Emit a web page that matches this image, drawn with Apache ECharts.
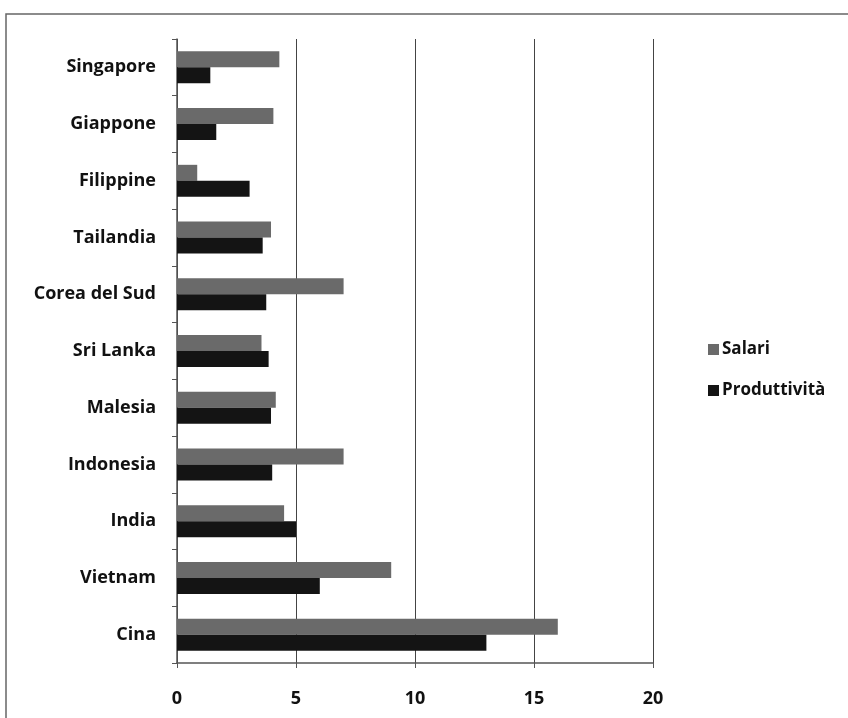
<!DOCTYPE html>
<html>
<head>
<meta charset="utf-8">
<script src="https://cdn.jsdelivr.net/npm/echarts@6/dist/echarts.min.js"></script>
<style>
  html, body { margin: 0; padding: 0; background: #fff; }
  #chart { width: 848px; height: 718px; }
</style>
</head>
<body>
<div id="chart"></div>
<script>
// paesi, dal basso verso l'alto
var paesi = ['Cina', 'Vietnam', 'India', 'Indonesia', 'Malesia', 'Sri Lanka',
  'Corea del Sud', 'Tailandia', 'Filippine', 'Giappone', 'Singapore'];
var salari = [16.0, 9.0, 4.5, 7.0, 4.15, 3.55, 7.0, 3.95, 0.85, 4.05, 4.3];
var produttivita = [13.0, 6.0, 5.0, 4.0, 3.95, 3.85, 3.75, 3.6, 3.05, 1.65, 1.4];
var xTicks = [0, 5, 10, 15, 20];

var chart = echarts.init(document.getElementById('chart'));

var fontName = 'Open Sans';

var opt = {
  animation: false,
  backgroundColor: '#fff',
  graphic: [{
    type: 'rect',
    shape: { x: 6, y: 14, width: 900, height: 800 },
    style: { fill: 'none', stroke: '#666', lineWidth: 1.5 },
    silent: true
  }],
  grid: {
    left: 177,
    right: 195,
    top: 39,
    bottom: 55
  },
  legend: {
    orient: 'vertical',
    left: 703,
    top: 336,
    itemWidth: 11,
    itemHeight: 11,
    itemGap: 24,
    icon: 'rect',
    data: ['Salari', 'Produttività'],
    textStyle: { fontFamily: fontName, fontSize: 17, fontWeight: 'bold', color: '#111', padding: [0, 0, 0, -2] }
  },
  xAxis: {
    type: 'value',
    min: xTicks[0],
    max: xTicks[xTicks.length - 1],
    interval: 5,
    axisLine: { show: true, lineStyle: { color: '#555', width: 1.5 } },
    axisTick: { show: true, length: 5, lineStyle: { color: '#555' } },
    axisLabel: { margin: 27, fontFamily: fontName, fontSize: 18, fontWeight: 'bold', color: '#111' },
    splitLine: { show: true, lineStyle: { color: '#444', width: 1 } }
  },
  yAxis: {
    type: 'category',
    data: paesi,
    axisLine: { show: true, lineStyle: { color: '#555', width: 1.5 } },
    axisTick: { show: true, length: 5, lineStyle: { color: '#555' } },
    axisLabel: { margin: 21, fontFamily: fontName, fontSize: 18, fontWeight: 'bold', color: '#111' }
  },
  series: [
    {
      name: 'Salari',
      type: 'bar',
      data: salari,
      barWidth: 16,
      barGap: '0%',
      itemStyle: { color: '#6a6a6a' }
    },
    {
      name: 'Produttività',
      type: 'bar',
      data: produttivita,
      barWidth: 16,
      barGap: '0%',
      itemStyle: { color: '#141414' }
    }
  ]
};

chart.setOption(opt);
</script>
</body>
</html>
